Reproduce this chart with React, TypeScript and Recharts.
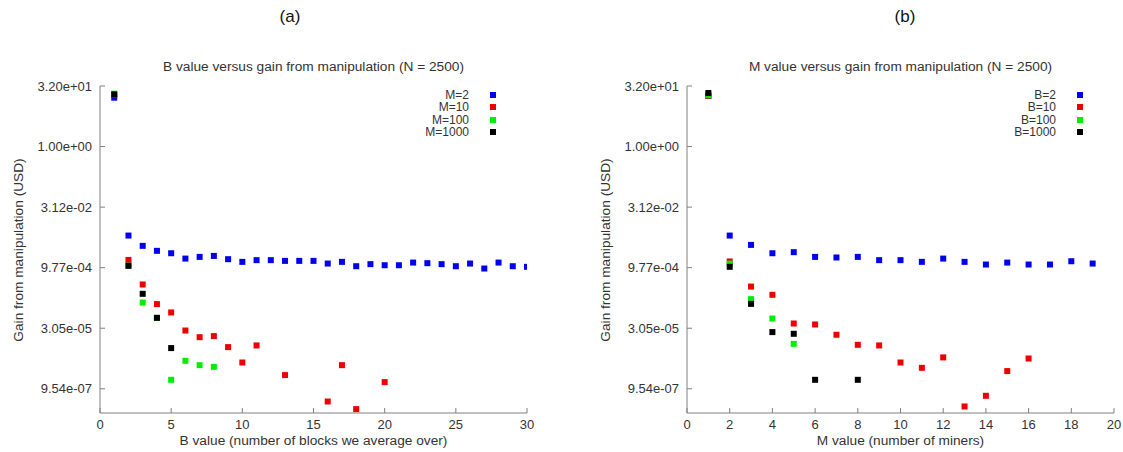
import React from 'react';
import { ScatterChart, Scatter, XAxis, YAxis } from 'recharts';

// ---------- Panel (a): B value versus gain (series by M) ----------
const aM2X = [1, 2, 3, 4, 5, 6, 7, 8, 9, 10, 11, 12, 13, 14, 15, 16, 17, 18, 19, 20, 21, 22, 23, 24, 25, 26, 27, 28, 29, 30];
const aM2Y = [16.4, 0.00613, 0.0034, 0.00256, 0.00223, 0.001642, 0.00181, 0.001913, 0.001587, 0.001361, 0.001501, 0.001501, 0.00144, 0.00144, 0.00144, 0.001236, 0.001361, 0.001061, 0.001194, 0.001122, 0.001122, 0.001307, 0.001262, 0.001194, 0.001061, 0.001236, 0.00093, 0.001307, 0.001061, 0.001025];
const aM10X = [1, 2, 3, 4, 5, 6, 7, 8, 9, 10, 11, 13, 16, 17, 18, 20];
const aM10Y = [19.0, 0.001522, 0.000373, 0.0001212, 0.0000752, 2.675e-5, 1.827e-5, 1.945e-5, 1.035e-5, 4.29e-6, 1.14e-5, 2.087e-6, 4.606e-7, 3.685e-6, 2.976e-7, 1.396e-6];
const aM100X = [1, 2, 3, 4, 5, 6, 7, 8];
const aM100Y = [20.6, 0.0011, 0.0001327, 5.5e-5, 1.593e-6, 4.73e-6, 3.685e-6, 3.344e-6];
const aM1000X = [1, 2, 3, 4, 5];
const aM1000Y = [19.8, 0.001084, 0.0002185, 5.539e-5, 9.79e-6];

// ---------- Panel (b): M value versus gain (series by B) ----------
const bB2X = [1, 2, 3, 4, 5, 6, 7, 8, 9, 10, 11, 12, 13, 14, 15, 16, 17, 18, 19];
const bB2Y = [18.0, 0.00613, 0.003595, 0.00223, 0.002371, 0.00181, 0.001748, 0.00181, 0.001501, 0.001501, 0.001361, 0.001642, 0.001361, 0.001169, 0.001307, 0.001169, 0.001169, 0.001411, 0.001236];
const bB10X = [1, 2, 3, 4, 5, 6, 7, 8, 9, 10, 11, 12, 13, 14, 15, 16];
const bB10Y = [18.4, 0.001392, 0.000331, 0.0002067, 3.999e-5, 3.784e-5, 2.099e-5, 1.181e-5, 1.14e-5, 4.29e-6, 3.164e-6, 5.742e-6, 3.466e-7, 6.38e-7, 2.624e-6, 5.395e-6];
const bB100X = [1, 2, 3, 4, 5];
const bB100Y = [18.8, 0.001236, 0.0001611, 5.314e-5, 1.248e-5];
const bB1000X = [1, 2, 3, 4, 5, 6, 8];
const bB1000Y = [21.4, 0.001025, 0.0001229, 2.445e-5, 2.219e-5, 1.593e-6, 1.593e-6];

// ---------- Axes / labels ----------
const yTicks = [32, 1, 0.03125, 0.0009765625, 0.000030517578125, 9.5367431640625e-7];
const yTickLabels = ['3.20e+01', '1.00e+00', '3.12e-02', '9.77e-04', '3.05e-05', '9.54e-07'];
const yDomain = [2.384185791015625e-7, 32];
const aXTicks = [0, 5, 10, 15, 20, 25, 30];
const bXTicks = [0, 2, 4, 6, 8, 10, 12, 14, 16, 18, 20];
const aLegend = ['M=2', 'M=10', 'M=100', 'M=1000'];
const bLegend = ['B=2', 'B=10', 'B=100', 'B=1000'];
const colors = ['#0000ee', '#ee0000', '#00ee00', '#000000'];

const FONT = '"Liberation Sans", Arial, sans-serif';
const TEXT = '#333333';
const AXIS = '#808080';

const zip = (xs: number[], ys: number[]) => xs.map((x, i) => ({ x, y: ys[i] }));

const fmt = (v: number) => {
  const idx = yTicks.findIndex((t) => Math.abs(t - v) / t < 1e-6);
  return idx >= 0 ? yTickLabels[idx] : String(v);
};

const square = (color: string) => (props: any) => (
  <rect x={props.cx - 3} y={props.cy - 3} width={6} height={6} fill={color} />
);

type PanelProps = {
  left: number;
  tag: string;
  tagX: number;
  title: string;
  xLabel: string;
  xTicks: number[];
  xMax: number;
  series: { x: number; y: number }[][];
  legend: string[];
};

const W = 536;
const H = 452;
const PL = 100; // plot left
const PR = 527; // plot right
const PT = 86;
const PB = 413;

function Panel(p: PanelProps) {
  const cx = (PL + PR) / 2;
  const tickStyle = { fontSize: 13, fill: TEXT, fontFamily: FONT };
  const labelFont = 13.7;
  return (
    <div style={{ position: 'absolute', left: p.left, top: 0, width: W, height: H }}>
      <div style={{ position: 'absolute', left: p.tagX - 50, top: 7, width: 100, textAlign: 'center', fontSize: 17, lineHeight: '20px', fontFamily: FONT, color: '#111' }}>{p.tag}</div>
      <div style={{ position: 'absolute', left: cx - 250, top: 59, width: 500, textAlign: 'center', fontSize: labelFont, lineHeight: '16px', fontFamily: FONT, color: TEXT }}>{p.title}</div>
      <ScatterChart width={W} height={H} margin={{ top: PT, right: W - PR, bottom: 0, left: 0 }}>
        <XAxis xAxisId="b" dataKey="x" type="number" domain={[0, p.xMax]} ticks={p.xTicks} height={H - PB}
          stroke={AXIS} tickSize={-5} tickMargin={12} tick={tickStyle} interval={0} allowDataOverflow />
        <XAxis xAxisId="t" orientation="top" dataKey="x" type="number" domain={[0, p.xMax]} ticks={p.xTicks} height={0}
          stroke={AXIS} tickSize={-5} tick={false} interval={0} allowDataOverflow />
        <YAxis yAxisId="l" dataKey="y" type="number" scale="log" domain={yDomain} ticks={yTicks} width={PL}
          stroke={AXIS} tickSize={-5} tickMargin={13} tick={tickStyle} tickFormatter={fmt} interval={0} allowDataOverflow />
        <YAxis yAxisId="r" orientation="right" dataKey="y" type="number" scale="log" domain={yDomain} ticks={yTicks} width={0}
          stroke={AXIS} tickSize={-5} tick={false} interval={0} allowDataOverflow />
        {p.series.map((data, i) => (
          <Scatter key={i} xAxisId="b" yAxisId="l" data={data} fill={colors[i]} shape={square(colors[i])} isAnimationActive={false} />
        ))}
      </ScatterChart>
      <div style={{ position: 'absolute', left: cx - 250, top: 433, width: 500, textAlign: 'center', fontSize: labelFont, lineHeight: '16px', fontFamily: FONT, color: TEXT }}>{p.xLabel}</div>
      <div style={{ position: 'absolute', left: 19 - 150, top: 250 - 8, width: 300, textAlign: 'center', fontSize: labelFont, lineHeight: '16px', fontFamily: FONT, color: TEXT, transform: 'rotate(-90deg)' }}>Gain from manipulation (USD)</div>
      {p.legend.map((name, i) => (
        <React.Fragment key={name}>
          <div style={{ position: 'absolute', left: PR - 58 - 120, top: 95 + i * 12.4 - 6, width: 120, height: 12, textAlign: 'right', fontSize: 12, lineHeight: '12px', fontFamily: FONT, color: TEXT }}>{name}</div>
          <div style={{ position: 'absolute', left: PR - 34 - 3, top: 95 + i * 12.4 - 3, width: 6, height: 6, background: colors[i] }} />
        </React.Fragment>
      ))}
    </div>
  );
}

export default function App() {
  return (
    <div style={{ position: 'absolute', left: 0, top: 0, width: 1123, height: 452, background: '#fff', overflow: 'hidden' }}>
      <Panel left={0} tag="(a)" tagX={290} title="B value versus gain from manipulation (N = 2500)"
        xLabel="B value (number of blocks we average over)" xTicks={aXTicks} xMax={30}
        series={[zip(aM2X, aM2Y), zip(aM10X, aM10Y), zip(aM100X, aM100Y), zip(aM1000X, aM1000Y)]} legend={aLegend} />
      <Panel left={587} tag="(b)" tagX={318} title="M value versus gain from manipulation (N = 2500)"
        xLabel="M value (number of miners)" xTicks={bXTicks} xMax={20}
        series={[zip(bB2X, bB2Y), zip(bB10X, bB10Y), zip(bB100X, bB100Y), zip(bB1000X, bB1000Y)]} legend={bLegend} />
    </div>
  );
}
